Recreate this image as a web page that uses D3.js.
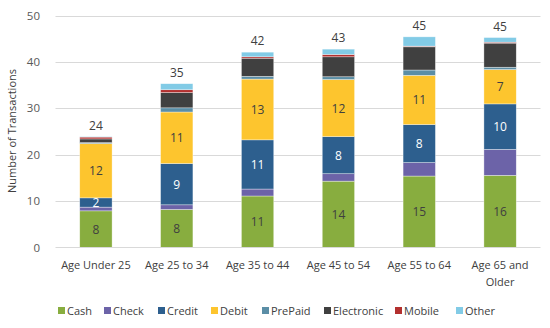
<!DOCTYPE html>
<html><head><meta charset="utf-8">
<script src="https://cdn.jsdelivr.net/npm/d3@7"></script>
<style>body{margin:0;background:#fff}svg{display:block;font-family:"Open Sans",sans-serif}</style>
</head><body>
<svg id="c" width="550" height="328"></svg>
<script>
const categories = ["Age Under 25","Age 25 to 34","Age 35 to 44","Age 45 to 54","Age 55 to 64","Age 65 and Older"];
const seriesNames = ["Cash","Check","Credit","Debit","PrePaid","Electronic","Mobile","Other"];
const cash       = [7.9, 8.2, 11.1, 14.3, 15.4, 15.55];
const check      = [0.8, 1.0, 1.5, 1.6, 2.9, 5.6];
const credit     = [2.0, 8.9, 10.6, 8.0, 8.2, 9.8];
const debit      = [11.7, 11.1, 13.1, 12.3, 10.6, 7.4];
const prepaid    = [0.2, 0.9, 0.6, 0.6, 1.15, 0.5];
const electronic = [0.8, 3.3, 3.9, 4.3, 5.0, 5.2];
const mobile     = [0.4, 0.6, 0.3, 0.5, 0.15, 0.2];
const other      = [0.1, 1.3, 1.0, 1.15, 2.0, 1.0];
const yTicks = [0, 10, 20, 30, 40, 50];
const colors = ["#88AD3F","#6C63A8","#2D5F8E","#FDC52E","#5B8EA6","#404040","#B3302F","#82CBE6"];
const labelled = ["Cash","Credit","Debit"];

const seriesVals = [cash, check, credit, debit, prepaid, electronic, mobile, other];
const rows = categories.map((c, i) => {
  const r = {cat: c};
  seriesNames.forEach((s, j) => r[s] = seriesVals[j][i]);
  return r;
});
const stack = d3.stack().keys(seriesNames)(rows);

const svg = d3.select("#c");
const x = d3.scaleBand().domain(categories).range([55.5, 540.5]);
const y = d3.scaleLinear().domain([0, 50]).range([247.5, 15.5]);
const bw = x.bandwidth() * 0.4;

// gridlines
svg.append("g").selectAll("line").data(yTicks.filter(t => t > 0)).join("line")
  .attr("x1", 55.5).attr("x2", 540.5)
  .attr("y1", d => Math.round(y(d)) + 0.5).attr("y2", d => Math.round(y(d)) + 0.5)
  .attr("stroke", "#D9D9D9").attr("stroke-width", 1);

// y axis labels
const yAxis = d3.axisLeft(y).tickValues(yTicks).tickSize(0).tickPadding(0);
const yg = svg.append("g").attr("transform", "translate(40,0)").call(yAxis);
yg.select(".domain").remove();
yg.selectAll("text").attr("font-size", 11.5).attr("fill", "#595959").attr("font-family", "\"Open Sans\",sans-serif");

// bars
const cmap = {};
seriesNames.forEach((s, j) => cmap[s] = colors[j]);
svg.append("g").selectAll("g").data(stack).join("g")
  .attr("fill", d => cmap[d.key])
  .selectAll("rect").data(d => d).join("rect")
  .attr("x", d => x(d.data.cat) + (x.bandwidth() - bw) / 2)
  .attr("width", bw)
  .attr("y", d => y(d[1]))
  .attr("height", d => y(d[0]) - y(d[1]))
  .attr("stroke", "#ffffff").attr("stroke-width", 0.6).attr("stroke-opacity", 0.6);

// x axis baseline
svg.append("line").attr("x1", 55.5).attr("x2", 540.5).attr("y1", 247.5).attr("y2", 247.5)
  .attr("stroke", "#D9D9D9");

// segment labels
const fmt = d3.format(".0f");
stack.filter(s => labelled.includes(s.key)).forEach(s => {
  svg.append("g").selectAll("text").data(s).join("text")
    .attr("x", d => x(d.data.cat) + x.bandwidth() / 2)
    .attr("y", d => (y(d[0]) + y(d[1])) / 2 + 4.5)
    .attr("text-anchor", "middle").attr("font-size", 12)
    .attr("fill", s.key === "Credit" ? "#ffffff" : "#404040")
    .text(d => fmt(d[1] - d[0]));
});

// totals
const totals = rows.map(r => ({cat: r.cat, t: d3.sum(seriesNames, s => r[s])}));
svg.append("g").selectAll("text").data(totals).join("text")
  .attr("x", d => x(d.cat) + x.bandwidth() / 2)
  .attr("y", d => y(d.t) - 7)
  .attr("text-anchor", "middle").attr("font-size", 12).attr("fill", "#404040")
  .text(d => fmt(d.t));

// x labels
const xl = svg.append("g").selectAll("text").data(categories).join("text")
  .attr("x", d => x(d) + x.bandwidth() / 2)
  .attr("y", 269)
  .attr("text-anchor", "middle").attr("font-size", 11).attr("fill", "#404040");
xl.each(function(d) {
  const t = d3.select(this);
  if (d === "Age 65 and Older") {
    t.append("tspan").attr("x", x(d) + x.bandwidth() / 2).text("Age 65 and");
    t.append("tspan").attr("x", x(d) + x.bandwidth() / 2).attr("dy", 17).text("Older");
  } else t.text(d);
});

// y axis title
svg.append("text").attr("transform", "translate(16,131) rotate(-90)")
  .attr("text-anchor", "middle").attr("font-size", 11).attr("fill", "#404040")
  .text("Number of Transactions");

// legend
const legX = [58, 104, 158, 211, 262, 324, 395, 456];
const lg = svg.append("g").selectAll("g").data(seriesNames).join("g")
  .attr("transform", (d, i) => `translate(${legX[i]},307)`);
lg.append("rect").attr("width", 7).attr("height", 7).attr("fill", d => cmap[d]);
lg.append("text").attr("x", 9).attr("y", 8).attr("font-size", 11).attr("fill", "#404040").text(d => d);
</script>
</body></html>
